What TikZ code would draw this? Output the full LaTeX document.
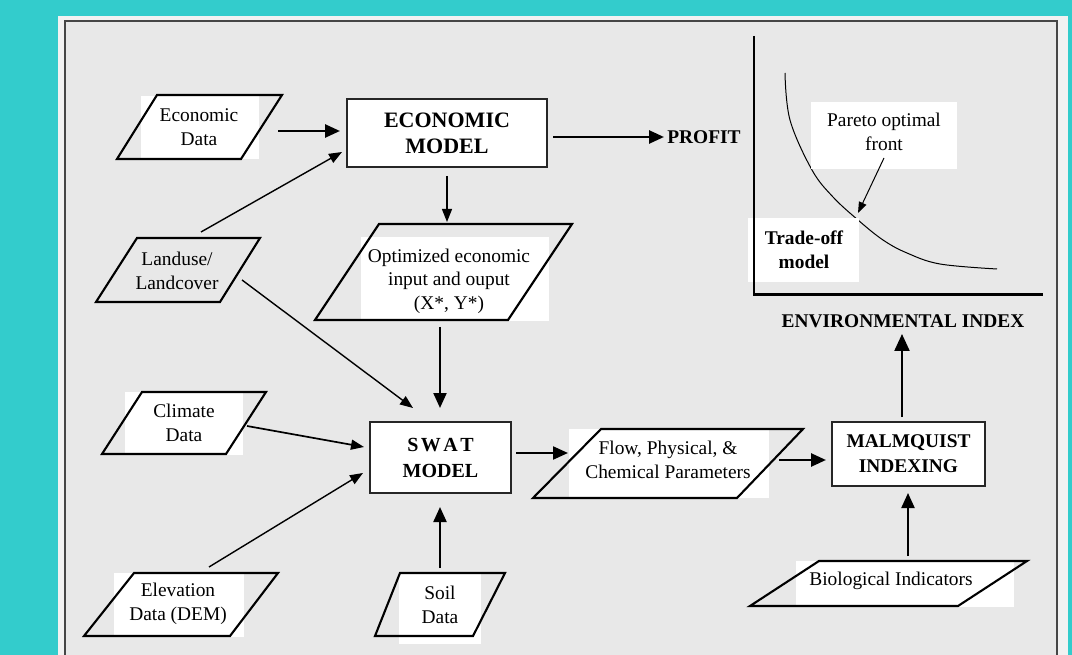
\documentclass[tikz,border=0pt]{standalone}
\usepackage{fontspec}
\setmainfont{Liberation Serif}
\usetikzlibrary{arrows.meta}
\definecolor{teal1}{RGB}{51,204,204}
\definecolor{panelout}{RGB}{242,242,242}
\definecolor{panelin}{RGB}{232,232,232}
\definecolor{framec}{RGB}{70,70,70}
\tikzset{
  txt/.style={align=center,inner sep=0pt,font=\fontsize{19.4}{23.5}\selectfont},
  btxt/.style={align=center,inner sep=0pt,font=\fontsize{19.4}{24}\selectfont\bfseries},
  modelbox/.style={draw=black!85,line width=1.5pt,fill=white,align=center,inner sep=0pt,font=\fontsize{22}{26}\selectfont\bfseries},
  pgram/.style={draw=black,line width=2.1pt,line join=miter},
  whiterect/.style={fill=white},
  thickarr/.style={line width=2.6pt,-{Triangle[length=15pt,width=13pt]}},
  medarr/.style={line width=2.2pt,-{Triangle[length=15pt,width=13pt]}},
  thinarr/.style={line width=1.4pt,-{Triangle[length=13pt,width=10pt]}},
  hairarr/.style={line width=1pt,-{Triangle[length=11pt,width=8pt]}},
}
\begin{document}
\begin{tikzpicture}[x=1pt,y=-1pt]
\useasboundingbox (0,0) rectangle (1072,655);
% background
\fill[teal1] (0,0) rectangle (1072,655);
\fill[panelout] (58,16) rectangle (1068,655);
\fill[panelin] (65,21) rectangle (1057,655);
\draw[framec,line width=1.8pt] (65,660) -- (65,21) -- (1057,21) -- (1057,660);

% trade-off curve
\draw[line width=1pt] plot[smooth,tension=0.6] coordinates {(785,73) (790,120) (812,170) (833,197) (858,220) (883,240) (907,253) (940,264) (997,269)};

% white text areas
\fill[whiterect] (141,96) rectangle (259,159);
\fill[whiterect] (361,237) rectangle (549,321);
\fill[whiterect] (125,392) rectangle (243,455);
\fill[whiterect] (114,573) rectangle (244,637);
\fill[whiterect] (399,573) rectangle (481,644);
\fill[whiterect] (569,429) rectangle (769,498);
\fill[whiterect] (796,561) rectangle (1014,607);
\fill[whiterect] (811,102) rectangle (957,169);
\fill[whiterect] (748,218) rectangle (859,282);

% axes
\draw[line width=2.7pt,line join=miter] (754,36) -- (754,294.5) -- (1043,294.5);

% parallelograms
\draw[pgram] (157,95) -- (282,95) -- (241,159) -- (117,159) -- cycle;
\draw[pgram] (137,238) -- (260,238) -- (220,302) -- (96,302) -- cycle;
\draw[pgram] (379,224) -- (572,224) -- (508,320) -- (315,320) -- cycle;
\draw[pgram] (142,392) -- (266,392) -- (226,454) -- (102,454) -- cycle;
\draw[pgram] (134,573) -- (278,573) -- (230,636) -- (84,636) -- cycle;
\draw[pgram] (400,573) -- (505,573) -- (473,636) -- (375,636) -- cycle;
\draw[pgram] (601,429) -- (803,429) -- (737,498) -- (533,498) -- cycle;
\draw[pgram] (819,561) -- (1027,561) -- (958,606) -- (750,606) -- cycle;

% boxes
\node[modelbox,minimum width=200pt,minimum height=68pt] (econ) at (447,133) {ECONOMIC\\MODEL};
\node[modelbox,minimum width=141pt,minimum height=71pt,font=\fontsize{20}{26}\selectfont\bfseries] (swat) at (440.5,457.5) {S\kern2.5pt W\kern2.5pt A\kern2.5pt T\\MODEL};
\node[modelbox,minimum width=153pt,minimum height=64pt,font=\fontsize{19.4}{25}\selectfont\bfseries] (malm) at (908.5,454) {MALMQUIST\\INDEXING};

% texts
\node[txt] (ecod) at (199,127) {Economic\\Data};
\node[txt] (land) at (177,271) {Landuse/\\Landcover};
\node[txt] (opt) at (449,281) {Optimized economic\\input and ouput\\(X*, Y*)};
\node[txt] (clim) at (184,423) {Climate\\Data};
\node[txt] (elev) at (178,604) {Elevation\\Data (DEM)};
\node[txt] (soil) at (440,605) {Soil\\Data};
\node[txt] (flow) at (668,460) {Flow, Physical, \&\\Chemical Parameters};
\node[txt] (bio) at (891,581) {Biological Indicators};
\node[txt] (pareto) at (884,132) {Pareto optimal\\front};
\node[btxt] (trade) at (804,250) {Trade-off\\model};
\node[btxt] (profit) at (704,137) {PROFIT};
\node[btxt] (env) at (903,321) {ENVIRONMENTAL INDEX};

% connector end points
\coordinate (a1s) at (278,131); \coordinate (a1e) at (340,131);
\coordinate (a2s) at (201,232); \coordinate (a2e) at (342,152);
\coordinate (a3s) at (553,137); \coordinate (a3e) at (664,137);
\coordinate (a4s) at (447,176); \coordinate (a4e) at (447,222);
\coordinate (a5s) at (242,280); \coordinate (a5e) at (413,408);
\coordinate (a6s) at (440,327); \coordinate (a6e) at (440,408);
\coordinate (a7s) at (247,426); \coordinate (a7e) at (364,447);
\coordinate (a8s) at (209,567); \coordinate (a8e) at (363,473);
\coordinate (a9s) at (440,568); \coordinate (a9e) at (440,507);
\coordinate (a10s) at (516,453); \coordinate (a10e) at (568,453);
\coordinate (a11s) at (779,460); \coordinate (a11e) at (826,460);
\coordinate (a12s) at (902,417); \coordinate (a12e) at (902,334);
\coordinate (a13s) at (908,556); \coordinate (a13e) at (908,493);
\coordinate (a14s) at (884,158); \coordinate (a14e) at (858,213);

% connectors
\draw[thickarr] (a1s) -- (a1e);
\draw[thinarr] (a2s) -- (a2e);
\draw[thickarr] (a3s) -- (a3e);
\draw[thinarr] (a4s) -- (a4e);
\draw[thinarr] (a5s) -- (a5e);
\draw[medarr] (a6s) -- (a6e);
\draw[thinarr,line width=1.7pt] (a7s) -- (a7e);
\draw[thinarr] (a8s) -- (a8e);
\draw[medarr] (a9s) -- (a9e);
\draw[medarr] (a10s) -- (a10e);
\draw[thickarr] (a11s) -- (a11e);
\draw[medarr,-{Triangle[length=17pt,width=15pt]}] (a12s) -- (a12e);
\draw[medarr] (a13s) -- (a13e);
\draw[hairarr] (a14s) -- (a14e);
\end{tikzpicture}
\end{document}
